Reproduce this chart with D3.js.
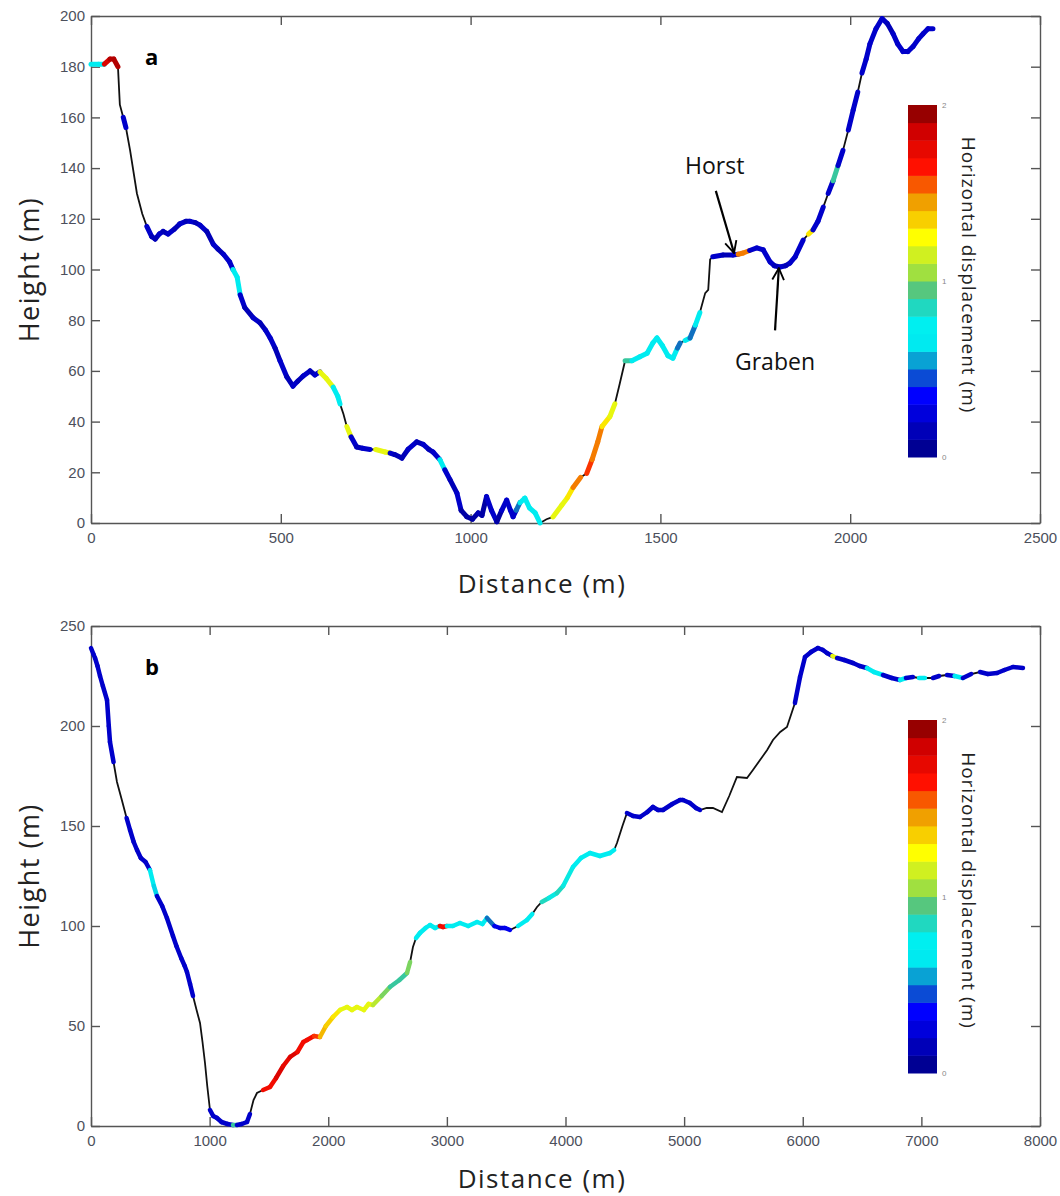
<!DOCTYPE html>
<html>
<head>
<meta charset="utf-8">
<script src="https://cdn.jsdelivr.net/npm/d3@7"></script>
<style>
  body { margin: 0; background: #fff; }
  .tick text { font-family: "Liberation Sans", Arial, sans-serif; font-size: 15px; fill: #4c505c; }
  .axis path, .axis line { stroke: #555; stroke-width: 1.4; }
</style>
</head>
<body>
<div id="chart"></div>
<script>
// ---- panel a : distance (m), height (m), horizontal displacement (m, null = no value) ----
const distA = [0, 20, 35, 50, 60, 71, 76, 85, 92, 103, 121, 135, 147, 160, 169, 180, 190, 203, 220, 234,
  250, 261, 275, 287, 305, 322, 335, 349, 365, 374, 385, 393, 405, 427, 445, 460, 472, 485, 498, 516,
  532, 545, 559, 577, 590, 603, 620, 638, 650, 656, 665, 674, 685, 700, 715, 735, 750, 775, 788, 800,
  819, 835, 858, 875, 890, 901, 919, 932, 946, 964, 975, 990, 1005, 1020, 1030, 1042, 1055, 1069, 1082, 1095,
  1105, 1112, 1120, 1130, 1143, 1155, 1170, 1183, 1200, 1217, 1240, 1255, 1270, 1290, 1306, 1320, 1335, 1346, 1367, 1380,
  1393, 1407, 1425, 1446, 1465, 1480, 1491, 1505, 1520, 1533, 1545, 1552, 1565, 1578, 1592, 1604, 1618, 1626, 1631, 1638,
  1665, 1691, 1705, 1718, 1735, 1754, 1771, 1789, 1800, 1815, 1830, 1841, 1855, 1876, 1890, 1902, 1915, 1929, 1942, 1955,
  1968, 1981, 1995, 2008, 2020, 2031, 2042, 2052, 2068, 2084, 2098, 2113, 2125, 2139, 2152, 2166, 2180, 2192, 2205, 2218];
const heightA = [181, 181, 181, 183, 183, 180, 165, 160, 156, 147, 130, 122, 117, 113, 112, 114, 115, 114, 116, 118,
  119, 119, 118.5, 117.5, 115, 110, 108, 106, 103, 100, 97, 90, 85, 81, 79, 76, 73, 69, 64, 57.6,
  54, 56, 58, 60, 58.4, 59.6, 57, 53.6, 50, 47, 43, 38, 34, 30, 29.5, 29, 29, 28, 27.6, 27,
  25.6, 29, 32, 31, 29, 28, 25, 21, 17, 11.8, 5, 2.5, 1.5, 4, 3, 10.4, 5, 0.5, 5, 9,
  5, 2.5, 5, 8, 9.8, 6, 4, 0, 1.5, 2.4, 7, 10, 14, 18, 19.6, 25, 32, 38, 42, 47,
  55, 64, 64, 65.6, 67, 71, 73, 70, 66, 65, 69, 71, 72, 73, 78, 83, 90.7, 92, 104, 105,
  105.7, 105.7, 106, 106.5, 107.5, 108.5, 107.7, 103, 101.5, 101, 101.5, 102.5, 105, 111.6, 114, 115.6, 119, 124.6, 130, 135,
  141, 147, 155, 163, 170, 177.5, 183, 189, 195, 199, 197, 193, 189, 186, 186, 188, 191, 193, 195, 195];
const dispA = [0.7, 0.7, 1.8, 1.9, 1.9, null, null, 0.2, null, null, null, null, 0.2, 0.15, 0.15, 0.2, 0.15, 0.2, 0.15, 0.2,
  0.15, 0.2, 0.15, 0.2, 0.15, 0.2, 0.15, 0.2, 0.2, 0.7, 0.7, 0.2, 0.15, 0.2, 0.15, 0.2, 0.2, 0.15, 0.2, 0.15,
  0.2, 0.15, 0.2, 0.15, 0.2, 1.2, 1.2, 0.7, 0.7, null, null, 1.2, 0.2, 0.15, 0.2, null, 1.2, 1.2, 0.2, 0.15,
  0.15, 0.2, 0.15, 0.2, 0.15, 0.2, 0.7, 0.2, 0.15, 0.2, 0.1, 0.1, 0.1, 0.15, 0.1, 0.2, 0.2, 0.1, 0.2, 0.2,
  0.2, 0.2, 0.5, 0.7, 0.7, 0.7, 0.7, null, null, 1.2, 1.2, 1.3, 1.5, null, 1.6, 1.5, 1.5, 1.3, 1.2, null,
  null, 0.9, 0.7, 0.7, 0.7, 0.7, 0.7, 0.7, 0.7, 0.7, 0.5, null, 0.7, 0.5, 0.7, null, null, null, null, 0.2,
  0.15, 0.2, 1.5, 1.5, 0.2, 0.2, 0.2, 0.2, 0.15, 0.2, 0.15, 0.2, 0.2, null, 1.3, 0.2, 0.2, null, 0.2, 0.9,
  0.2, null, 0.2, 0.2, null, 0.2, 0.2, 0.2, 0.2, 0.2, 0.15, 0.2, 0.2, 0.2, 0.2, 0.2, 0.2, 0.2, 0.2, 0.2];

// ---- panel b ----
const distB = [0, 20, 34, 55, 76, 100, 135, 150, 160, 190, 219, 260, 300, 329, 360, 388, 420, 460, 497, 530,
  556, 600, 640, 691, 720, 760, 790, 809, 835, 860, 890, 919, 940, 961, 980, 1003, 1030, 1062, 1100, 1150,
  1197, 1230, 1270, 1315, 1340, 1370, 1399, 1450, 1509, 1560, 1620, 1678, 1740, 1790, 1821, 1880, 1930, 1980, 2040, 2099,
  2158, 2200, 2242, 2300, 2340, 2377, 2450, 2520, 2600, 2664, 2690, 2714, 2740, 2773, 2820, 2858, 2900, 2940, 2967, 3000,
  3050, 3110, 3180, 3254, 3300, 3338, 3400, 3448, 3490, 3532, 3600, 3675, 3720, 3760, 3800, 3860, 3928, 3980, 4063, 4130,
  4206, 4290, 4375, 4410, 4434, 4480, 4518, 4570, 4628, 4690, 4737, 4780, 4822, 4900, 4965, 4990, 5049, 5100, 5134, 5190,
  5243, 5319, 5380, 5445, 5530, 5580, 5640, 5700, 5749, 5810, 5867, 5934, 5977, 6019, 6070, 6128, 6170, 6204, 6250, 6289,
  6350, 6423, 6480, 6541, 6600, 6676, 6750, 6820, 6870, 6929, 6980, 7030, 7098, 7150, 7216, 7280, 7350, 7420, 7494, 7560,
  7638, 7700, 7772, 7856];
const heightB = [239, 236, 234, 230, 225, 220, 213, 200, 192, 182, 172, 163, 154, 148, 142, 138, 134, 132, 128, 120,
  115, 110, 104, 95, 90, 84, 80, 77, 71, 65, 58, 51.5, 42, 31.5, 20, 8, 5, 4, 2, 1,
  0.5, 0.5, 1, 2, 6, 13, 16.5, 18, 19.5, 24, 30, 34.5, 37, 42, 43, 45, 44.5, 50, 54.5, 58,
  59.5, 58, 59.5, 58, 61, 60.5, 65, 69.5, 73, 76.5, 82, 89.5, 94, 96.5, 99, 100.5, 99, 100, 99.5, 100,
  100, 101.5, 100, 102, 101, 104, 100, 99, 99, 98, 100, 103, 106, 109.5, 112, 114, 116.5, 120, 129.5, 134,
  136.5, 135, 136.5, 138, 141.5, 150, 156.5, 155, 154.5, 157, 159.5, 158, 158, 161, 163, 163, 161.5, 159, 158, 159,
  159, 157, 165, 174.5, 174, 178, 183, 188, 193, 197, 199.5, 211.5, 224.5, 234.5, 237, 239, 238, 236.5, 235, 234,
  233, 231.5, 230, 229, 227, 225.5, 224, 223, 224, 224.5, 224, 224, 224, 225, 225.5, 225, 224, 226, 227, 226,
  226.5, 228, 229.5, 229];
const dispB = [0.2, 0.2, 0.2, 0.2, 0.2, 0.2, 0.2, 0.2, 0.2, null, null, null, 0.2, 0.2, 0.2, 0.2, 0.2, 0.2, 0.7, 0.6,
  0.2, 0.2, 0.2, 0.2, 0.2, 0.2, 0.2, 0.2, 0.2, null, null, null, null, null, null, 0.2, 0.2, 0.2, 0.2, 0.2,
  0.9, 0.2, 0.2, 0.2, null, null, null, 1.7, 1.7, 1.8, 1.75, 1.8, 1.7, 1.7, 1.7, 1.6, 1.4, 1.35, 1.3, 1.2,
  1.2, 1.2, 1.2, 1.2, 1.2, 1.1, 1.0, 0.9, 0.9, 1.0, null, null, 0.7, 0.7, 0.7, 0.7, 0.7, 1.7, 1.7, 0.7,
  0.7, 0.7, 0.7, 0.7, 0.7, 0.5, 0.3, 0.25, 0.3, null, 0.7, 0.7, null, null, 0.85, 0.8, 0.85, 0.8, 0.7, 0.7,
  0.7, 0.7, 0.7, null, null, null, 0.2, 0.2, 0.2, 0.2, 0.2, 0.2, 0.2, 0.2, 0.2, 0.2, 0.2, 0.2, null, null,
  null, null, null, null, null, null, null, null, null, null, null, 0.2, 0.2, 0.2, 0.2, 0.2, 0.2, 0.2, 1.2, 0.2,
  0.2, 0.2, 0.2, 0.7, 0.7, 0.2, 0.2, 0.7, 0.2, null, 0.7, null, 0.2, null, 0.2, 0.7, 0.2, null, 0.2, 0.2,
  0.2, 0.2, 0.2, 0.2];

// axis ticks
const xTicksA = [0, 500, 1000, 1500, 2000, 2500];
const yTicksA = [0, 20, 40, 60, 80, 100, 120, 140, 160, 180, 200];
const xTicksB = [0, 1000, 2000, 3000, 4000, 5000, 6000, 7000, 8000];
const yTicksB = [0, 50, 100, 150, 200, 250];

// jet-like colormap of the colour bar
const cmapStops = [0, 0.15, 0.35, 0.5, 0.62, 0.78, 0.92, 1.05, 1.25, 1.45, 1.65, 1.85, 2.0];
const cmapColors = ['#000080', '#0000b8', '#0000ff', '#1070c0', '#00e8f0', '#00f0f0', '#40c090', '#a0e040',
  '#ffff00', '#f0a000', '#ff1000', '#d00000', '#7a0000'];
const cbTicks = [0, 1, 2];

const W = 1060, H = 1196;
const svg = d3.select('#chart').append('svg').attr('width', W).attr('height', H);
const color = d3.scaleLinear().domain(cmapStops).range(cmapColors);

const labelFont = '"Open Sans", "Noto Sans", sans-serif';

function drawPanel(p) {
    const x = d3.scaleLinear().domain(p.xDomain).range([p.left, p.right]);
    const y = d3.scaleLinear().domain(p.yDomain).range([p.bottom, p.top]);
    const g = svg.append('g');

    // axes (MATLAB style: box with inward ticks)
    g.append('g').attr('class', 'axis').attr('transform', `translate(0,${p.bottom})`)
        .call(d3.axisBottom(x).tickValues(p.xTicks).tickSize(-9).tickSizeOuter(0).tickPadding(9).tickFormat(d3.format('d')));
    g.append('g').attr('class', 'axis').attr('transform', `translate(${p.left},0)`)
        .call(d3.axisLeft(y).tickValues(p.yTicks).tickSize(-9).tickSizeOuter(0).tickPadding(6).tickFormat(d3.format('d')));
    g.append('g').attr('class', 'axis').attr('transform', `translate(0,${p.top})`)
        .call(d3.axisTop(x).tickValues(p.xTicks).tickSize(-9).tickSizeOuter(0).tickFormat(''));
    g.append('g').attr('class', 'axis').attr('transform', `translate(${p.right},0)`)
        .call(d3.axisRight(y).tickValues(p.yTicks).tickSize(-9).tickSizeOuter(0).tickFormat(''));

    const pts = p.dist.map((d, i) => ({d: d, h: p.height[i], v: p.disp[i]}));

    // black profile line
    const line = d3.line().x(d => x(d.d)).y(d => y(d.h));
    g.append('path').attr('d', line(pts))
        .style('fill', 'none').style('stroke', '#111').style('stroke-width', 1.8);

    // coloured displacement markers along the profile
    const segs = pts.slice(0, -1).map((d, i) => [d, pts[i + 1]]).filter(s => s[0].v !== null);
    g.selectAll('.seg').data(segs).enter().append('line')
        .attr('class', 'seg')
        .attr('x1', s => x(s[0].d)).attr('y1', s => y(s[0].h))
        .attr('x2', s => x(s[1].d)).attr('y2', s => y(s[1].h))
        .style('stroke', s => color(s[0].v))
        .style('stroke-width', p.segWidth)
        .style('stroke-linecap', 'round');

    // colour bar
    const cy = d3.scaleLinear().domain([0, 2]).range([p.cbBottom, p.cbTop]);
    const bands = d3.range(0, 2, 0.1);
    g.selectAll('.cb').data(bands).enter().append('rect')
        .attr('x', p.cbX).attr('width', 29)
        .attr('y', d => cy(d + 0.1)).attr('height', d => cy(d) - cy(d + 0.1) + 0.5)
        .style('fill', d => color(d + 0.05));
    g.selectAll('.cbt').data(cbTicks).enter().append('text')
        .attr('x', p.cbX + 34).attr('y', d => cy(d) + 3)
        .style('font-family', 'Liberation Sans, sans-serif').style('font-size', '8px').style('fill', '#888')
        .text(d => d);
    g.append('text')
        .attr('transform', `translate(${p.cbX + 54},${(p.cbTop + p.cbBottom) / 2 - 6}) rotate(90)`)
        .attr('text-anchor', 'middle')
        .style('font-family', labelFont).style('font-size', '19px').style('letter-spacing', '1px')
        .style('fill', '#222')
        .text('Horizontal displacement (m)');

    // axis titles
    g.append('text')
        .attr('x', 542).attr('y', p.bottom + p.xTitleDy)
        .attr('text-anchor', 'middle')
        .style('font-family', labelFont).style('font-size', '26px').style('letter-spacing', '1.5px').style('fill', '#222')
        .text('Distance (m)');
    g.append('text')
        .attr('transform', `translate(39,${(p.top + p.bottom) / 2}) rotate(-90)`)
        .attr('text-anchor', 'middle')
        .style('font-family', labelFont).style('font-size', '27px').style('letter-spacing', '1.5px').style('fill', '#222')
        .text('Height (m)');

    // panel letter
    g.append('text')
        .attr('x', p.left + 54).attr('y', p.top + 49)
        .style('font-family', labelFont).style('font-size', '22px').style('font-weight', 'bold')
        .text(p.letter);
    return {x: x, y: y, g: g};
}

const pa = drawPanel({
    dist: distA, height: heightA, disp: dispA,
    xDomain: [0, 2500], yDomain: [0, 200], xTicks: xTicksA, yTicks: yTicksA,
    left: 91, right: 1040, top: 16, bottom: 523, segWidth: 5,
    cbX: 908, cbTop: 105, cbBottom: 457, xTitleDy: 70, letter: 'a'
});

drawPanel({
    dist: distB, height: heightB, disp: dispB,
    xDomain: [0, 8000], yDomain: [0, 250], xTicks: xTicksB, yTicks: yTicksB,
    left: 91, right: 1040, top: 626, bottom: 1126, segWidth: 4.5,
    cbX: 908, cbTop: 720, cbBottom: 1073, xTitleDy: 62, letter: 'b'
});

// Horst / Graben annotations (panel a)
const arrowDefs = svg.append('defs');
arrowDefs.append('marker').attr('id', 'arr').attr('viewBox', '0 0 12 12')
    .attr('refX', 11).attr('refY', 6).attr('markerWidth', 14).attr('markerHeight', 14)
    .attr('orient', 'auto').attr('markerUnits', 'userSpaceOnUse')
    .append('path').attr('d', 'M1,1 L11,6 L1,11').style('fill', 'none').style('stroke', '#000').style('stroke-width', 1.6);

const annot = [
    {label: 'Horst', tx: 685, ty: 174, from: [1646, 131], to: [1694, 106.5]},
    {label: 'Graben', tx: 735, ty: 370, from: [1802, 76], to: [1812, 100.5]}
];
annot.forEach(a => {
    pa.g.append('line')
        .attr('x1', pa.x(a.from[0])).attr('y1', pa.y(a.from[1]))
        .attr('x2', pa.x(a.to[0])).attr('y2', pa.y(a.to[1]))
        .style('stroke', '#000').style('stroke-width', 2.2)
        .attr('marker-end', 'url(#arr)');
    pa.g.append('text').attr('x', a.tx).attr('y', a.ty)
        .style('font-family', labelFont).style('font-size', '23px').style('fill', '#111')
        .text(a.label);
});
</script>
</body>
</html>
